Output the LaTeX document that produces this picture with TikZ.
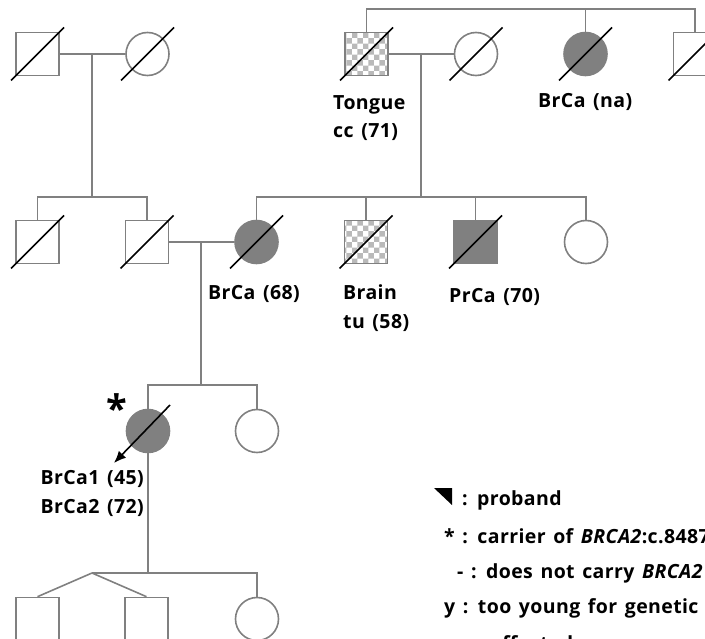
\documentclass[tikz,border=0pt]{standalone}
\usepackage{fontspec}
\setmainfont{Open Sans}[LetterSpace=2,WordSpace=1.4]
\usetikzlibrary{patterns,arrows.meta}
\definecolor{lg}{RGB}{128,128,128}
\newcommand\deceased[1]{\draw[dead] ([shift={(-26.5,26.5)}]#1.center) -- ([shift={(26.5,-26.5)}]#1.center);}
\begin{document}
\begin{tikzpicture}[x=1pt,y=-1pt,
  ln/.style={draw=lg,line width=1.6pt},
  male/.style={rectangle,draw=lg,line width=1.6pt,minimum size=43pt,inner sep=0pt},
  female/.style={circle,draw=lg,line width=1.6pt,minimum size=43pt,inner sep=0pt},
  aff/.style={fill=lg},
  chk/.style={pattern=checkerboard,pattern color=lg!55},
  dead/.style={black,line width=1.6pt},
  lbl/.style={font=\fontsize{19.5}{28}\selectfont\bfseries,inner sep=0pt,anchor=base west}
]
\useasboundingbox (0,0) rectangle (705,639);
% generation I (left)
\node[male] (a1) at (37.5,54) {};
\node[female] (a2) at (147.5,54) {};
% generation I (right)
\node[male,chk] (c1) at (366.5,54) {};
\node[female] (c2) at (476,54) {};
\node[female,aff] (c3) at (585.5,54) {};
\node[male] (c4) at (695,54) {};
% generation II
\node[male] (b1) at (37.5,242) {};
\node[male] (b2) at (147,242) {};
\node[female,aff] (b3) at (256.5,242) {};
\node[male,chk] (b4) at (366,242) {};
\node[male,aff] (b5) at (475.5,242) {};
\node[female] (b6) at (586,242) {};
% generation III
\node[female,aff] (d1) at (148,431) {};
\node[female] (d2) at (257,431) {};
% generation IV
\node[male] (e1) at (37.5,619) {};
\node[male] (e2) at (146.5,619) {};
\node[female] (e3) at (257,619) {};

% junction coordinates
\coordinate (m1) at (92,54);
\coordinate (s1) at (92,197);
\coordinate (m2) at (201,242);
\coordinate (s3) at (201,385);
\coordinate (m3) at (421,54);
\coordinate (s2) at (421,197);
\coordinate (t0) at (366.5,9);
\coordinate (t3) at (695,9);
\coordinate (s4) at (148,573);
\coordinate (tw) at (92,573);

% marriages and descents
\draw[ln] (a1.east) -- (a2.west);
\draw[ln] (m1) -- (s1);
\draw[ln] (b1.north) |- (b2.north |- s1) -- (b2.north);
\draw[ln] (b2.east) -- (b3.west);
\draw[ln] (m2) -- (s3);
\draw[ln] (c1.north) -- (t0) -- (t3) -- (c4.north);
\draw[ln] (c3.north) -- (c3.north |- t0);
\draw[ln] (c1.east) -- (c2.west);
\draw[ln] (m3) -- (s2);
\draw[ln] (b3.north) |- (b6.north |- s2) -- (b6.north);
\draw[ln] (b4.north) -- (b4.north |- s2);
\draw[ln] (b5.north) -- (b5.north |- s2);
\draw[ln] (d1.north) |- (d2.north |- s3) -- (d2.north);
\draw[ln] (d1.south) -- (s4);
\draw[ln] (tw) -- (e3.north |- tw) -- (e3.north);
\draw[ln] (tw) -- (e1.north);
\draw[ln] (tw) -- (e2.north);

% deceased marks
\deceased{a1}\deceased{a2}\deceased{c1}\deceased{c2}\deceased{c3}\deceased{c4}
\deceased{b1}\deceased{b2}\deceased{b3}\deceased{b4}\deceased{b5}
% proband
\draw[dead,-{Latex[length=12pt,width=10pt]}] ([shift={(22,-26)}]d1.center) -- ([shift={(-34,32)}]d1.center);
\node[font=\fontsize{38}{38}\selectfont\bfseries,inner sep=0pt,anchor=base] (ast) at (117,423) {*};

% labels
\node[lbl] (l1) at (333,110) {Tongue};
\node[lbl] (l2) at (333,138) {cc (71)};
\node[lbl] (l3) at (538,108) {BrCa (na)};
\node[lbl] (l4) at (208,300) {BrCa (68)};
\node[lbl] (l5) at (343,300) {Brain};
\node[lbl] (l6) at (343,329) {tu (58)};
\node[lbl] (l7) at (449,303) {PrCa (70)};
\node[lbl,anchor=base east] (l8) at (144,484) {BrCa1 (45)};
\node[lbl,anchor=base east] (l9) at (144,513) {BrCa2 (72)};

% legend
\fill[black] (434,488) -- (452,488) -- (452,505) -- cycle;
\node[lbl] (g1) at (462,505) {: proband};
\node[lbl] (g2) at (444,543) {* : carrier of \textit{BRCA2}:c.8487};
\node[lbl] (g3) at (457,578) {- : does not carry \textit{BRCA2}};
\node[lbl] (g4) at (444,613) {y : too young for genetic};
\node[lbl] (g5) at (490,650) {affected};
\end{tikzpicture}
\end{document}
